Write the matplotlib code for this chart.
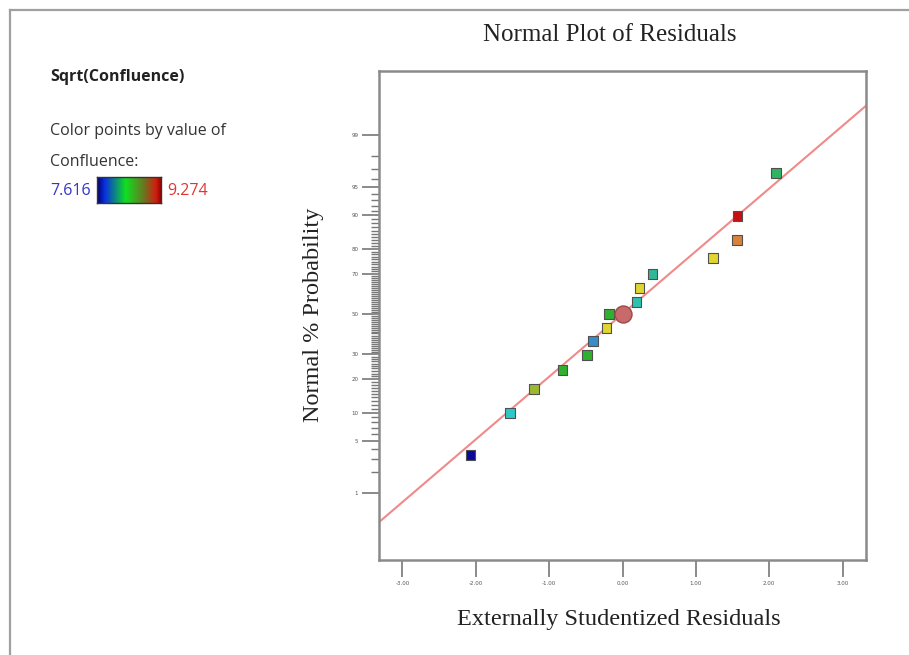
import numpy as np
import matplotlib
matplotlib.use("Agg")
import matplotlib.pyplot as plt
from matplotlib.colors import LinearSegmentedColormap
from matplotlib.lines import Line2D
from statistics import NormalDist

# residuals (externally studentized) and their normal % probability
resid = [-2.07, -1.53, -1.21, -0.82, -0.48, -0.40, -0.22, -0.18, 0.19, 0.23, 0.41, 1.23, 1.56, 1.57, 2.09]
prob = [3.4, 10.0, 16.6, 23.4, 29.8, 36.3, 42.9, 50.0, 56.2, 63.2, 69.8, 76.6, 83.1, 89.8, 96.6]
confluence = [7.616, 8.113, 8.694, 8.445, 8.445, 7.948, 8.860, 8.445, 8.196, 8.860, 8.279, 8.860, 9.075, 9.274, 8.362]
conf_min, conf_max = 7.616, 9.274

# highlighted point
hl_resid, hl_prob = 0.0, 50.0

# reference line
fit_slope, fit_icept = 0.813, 0.0

xticks = [-3, -2, -1, 0, 1, 2, 3]
xtick_labels = ["-3.00", "-2.00", "-1.00", "0.00", "1.00", "2.00", "3.00"]
ytick_pct = [1, 5, 10, 20, 30, 50, 70, 80, 90, 95, 99]

nd = NormalDist()
z = lambda p: nd.inv_cdf(p / 100.0)

pt_cmap = LinearSegmentedColormap.from_list("pts", [
    (0.0, "#0a0a9a"), (0.2, "#3a8cc8"), (0.3, "#30c8c8"), (0.4, "#30b898"),
    (0.5, "#2eb02e"), (0.65, "#9cb830"), (0.75, "#e0d830"), (0.88, "#d8843c"),
    (1.0, "#c81010")])
bar_cmap = LinearSegmentedColormap.from_list("bar", [
    (0.0, "#000070"), (0.12, "#0a30e0"), (0.45, "#10e020"), (0.75, "#707020"),
    (0.92, "#d02010"), (1.0, "#a00000")])

fig = plt.figure(figsize=(9.09, 6.55), dpi=100)
fig.patch.set_facecolor("white")

# outer frame
fig.add_artist(Line2D([10 / 909, 1.0], [1 - 10 / 655] * 2, color="#a0a0a0", lw=1.6))
fig.add_artist(Line2D([10 / 909] * 2, [0.0, 1 - 10 / 655], color="#a0a0a0", lw=1.6))

ax = fig.add_axes([379 / 909, 1 - 560 / 655, 487 / 909, 489 / 655])
xlim = (-3.32, 3.32)
ax.set_xlim(*xlim)
ax.set_ylim(-3.19, 3.15)

xs = np.array(xlim)
ax.plot(xs, fit_slope * xs + fit_icept, color="#f08a8a", lw=1.5, zorder=2)

norm_c = [(c - conf_min) / (conf_max - conf_min) for c in confluence]
ax.scatter(resid, [z(p) for p in prob], marker="s", s=48, c=[pt_cmap(v) for v in norm_c],
           edgecolors="#505050", linewidths=0.8, zorder=3)
ax.scatter([hl_resid], [z(hl_prob)], marker="o", s=150, color="#c96a6a",
           edgecolors="#9a4a4a", linewidths=1.0, zorder=4)

ax.set_xticks(xticks)
ax.set_xticklabels(xtick_labels)
ax.set_yticks([z(p) for p in ytick_pct])
ax.set_yticklabels([str(p) for p in ytick_pct])
ax.set_yticks([z(p) for p in range(1, 100) if p not in ytick_pct], minor=True)
ax.tick_params(axis="both", which="major", length=12, width=1.2, color="#777777",
               labelsize=4, labelcolor="#555555", pad=3)
ax.tick_params(axis="y", which="minor", length=6, width=1.0, color="#777777")
for s in ax.spines.values():
    s.set_color("#8a8a8a")
    s.set_linewidth(1.8)

serif = ["Liberation Serif", "DejaVu Serif"]
fig.text(610 / 909, 1 - 35 / 655, "Normal Plot of Residuals", ha="center", va="center",
         fontsize=18, family=serif, color="#222222")
fig.text(313 / 909, 1 - 315 / 655, "Normal % Probability", ha="center", va="center",
         rotation=90, fontsize=17.5, family=serif, color="#222222")
fig.text(619 / 909, 1 - 620 / 655, "Externally Studentized Residuals", ha="center", va="center",
         fontsize=17.5, family=serif, color="#222222")

sans = ["Open Sans", "DejaVu Sans"]
fig.text(50 / 909, 1 - 77 / 655, "Sqrt(Confluence)", ha="left", va="center",
         fontsize=11.5, fontweight="bold", family=sans, color="#222222")
fig.text(50 / 909, 1 - 131 / 655, "Color points by value of", ha="left", va="center",
         fontsize=11.5, family=sans, color="#333333")
fig.text(50 / 909, 1 - 162 / 655, "Confluence:", ha="left", va="center",
         fontsize=11.5, family=sans, color="#333333")
fig.text(50 / 909, 1 - 191 / 655, f"{conf_min:.3f}", ha="left", va="center",
         fontsize=11.5, family=sans, color="#3535c8")
fig.text(167 / 909, 1 - 191 / 655, f"{conf_max:.3f}", ha="left", va="center",
         fontsize=11.5, family=sans, color="#e03535")

cax = fig.add_axes([97 / 909, 1 - 203 / 655, 64 / 909, 26 / 655])
cax.imshow(np.linspace(0, 1, 200)[None, :], aspect="auto", cmap=bar_cmap)
cax.set_xticks([])
cax.set_yticks([])
for s in cax.spines.values():
    s.set_color("#333333")
    s.set_linewidth(1.0)

fig.savefig("out.png", dpi=100)
